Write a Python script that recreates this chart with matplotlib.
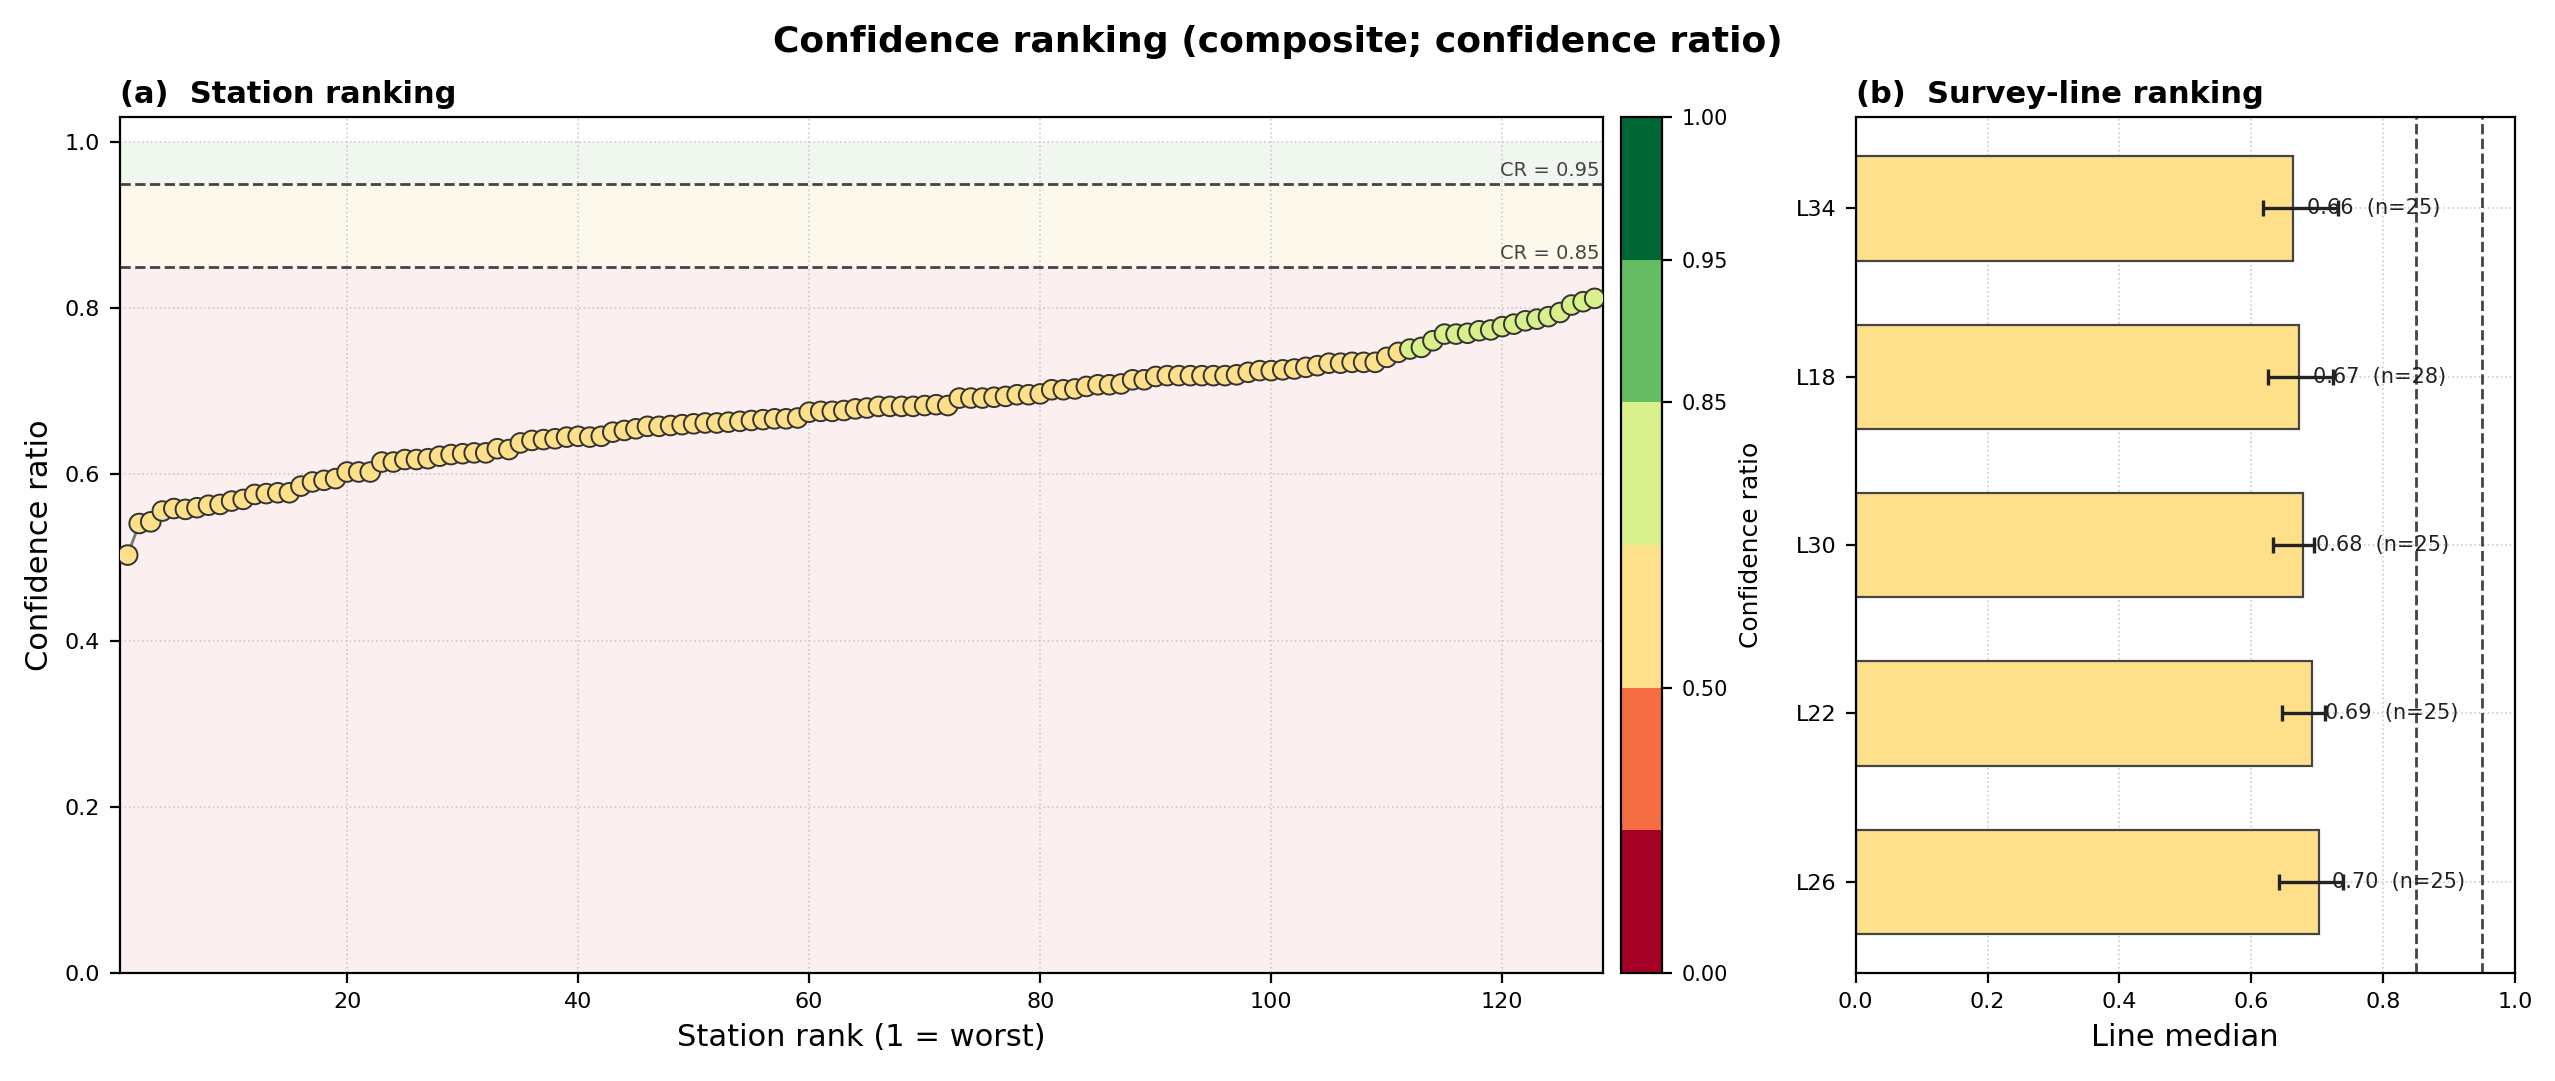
import matplotlib
matplotlib.use("Agg")
import matplotlib.pyplot as plt
import numpy as np
from matplotlib.colors import ListedColormap, BoundaryNorm

# station confidence ratios, sorted worst -> best (rank 1..128)
station_cr = [
    0.503, 0.541, 0.543, 0.556, 0.559, 0.558, 0.560, 0.563, 0.564, 0.568,
    0.570, 0.576, 0.577, 0.578, 0.578, 0.586, 0.591, 0.593, 0.595, 0.603,
    0.603, 0.603, 0.615, 0.615, 0.618, 0.618, 0.619, 0.622, 0.624, 0.625,
    0.626, 0.626, 0.631, 0.630, 0.638, 0.641, 0.642, 0.643, 0.645, 0.646,
    0.645, 0.646, 0.651, 0.653, 0.655, 0.658, 0.658, 0.659, 0.660, 0.661,
    0.662, 0.662, 0.663, 0.664, 0.665, 0.666, 0.667, 0.667, 0.668, 0.675,
    0.676, 0.676, 0.677, 0.679, 0.680, 0.682, 0.682, 0.682, 0.682, 0.683,
    0.684, 0.683, 0.692, 0.692, 0.692, 0.693, 0.694, 0.696, 0.696, 0.697,
    0.702, 0.702, 0.703, 0.706, 0.708, 0.708, 0.709, 0.714, 0.714, 0.718,
    0.719, 0.719, 0.719, 0.719, 0.719, 0.719, 0.720, 0.723, 0.725, 0.725,
    0.726, 0.727, 0.729, 0.731, 0.734, 0.734, 0.735, 0.735, 0.735, 0.741,
    0.747, 0.751, 0.753, 0.761, 0.769, 0.769, 0.770, 0.773, 0.774, 0.778,
    0.781, 0.785, 0.787, 0.790, 0.795, 0.804, 0.808, 0.812,
]

# survey lines, worst first
lines = ["L34", "L18", "L30", "L22", "L26"]
line_median = [0.664, 0.673, 0.678, 0.692, 0.703]
line_lo = [0.618, 0.626, 0.633, 0.646, 0.642]
line_hi = [0.732, 0.724, 0.695, 0.712, 0.739]
line_n = [25, 28, 25, 25, 25]

bounds = [0.0, 0.25, 0.5, 0.75, 0.85, 0.95, 1.0]
cb_ticks = [0.0, 0.5, 0.85, 0.95, 1.0]
thresholds = [0.85, 0.95]

cmap = ListedColormap(["#a50026", "#f46d43", "#fee08b", "#d9ef8b", "#66bd63", "#006837"])
norm = BoundaryNorm(bounds, cmap.N)

fig = plt.figure(figsize=(12.775, 5.405), dpi=200)
ax = fig.add_axes([0.0468, 0.1, 0.5805, 0.7915])
cax = fig.add_axes([0.6346, 0.1, 0.0159, 0.7915])
ax2 = fig.add_axes([0.7263, 0.1, 0.258, 0.7915])

# ---- (a) station ranking
rank = np.arange(1, len(station_cr) + 1)
ax.axhspan(0, 0.85, color="#fbeff0", zorder=0, lw=0)
ax.axhspan(0.85, 0.95, color="#fcf8ec", zorder=0, lw=0)
ax.axhspan(0.95, 1.0, color="#f0f7ee", zorder=0, lw=0)
ax.plot(rank, station_cr, color="#777777", lw=1.0, zorder=2)
sc = ax.scatter(rank, station_cr, c=station_cr, cmap=cmap, norm=norm, s=50,
                edgecolors="#333333", linewidths=0.7, zorder=3)
for t in thresholds:
    ax.axhline(t, color="#444444", ls="--", lw=1.0, zorder=1)
    ax.text(128.4, t + 0.004, f"CR = {t:.2f}", ha="right", va="bottom",
            fontsize=7, color="#444444")
ax.set_xlim(0.3, 128.7)
ax.set_ylim(0, 1.03)
ax.grid(True, ls=":", lw=0.6, color="#cccccc", zorder=1)
ax.set_axisbelow(True)
ax.tick_params(labelsize=8)
ax.set_xlabel("Station rank (1 = worst)", fontsize=11)
ax.set_ylabel("Confidence ratio", fontsize=11)
ax.set_title("(a)  Station ranking", loc="left", fontweight="bold", fontsize=11, pad=5)

cb = fig.colorbar(sc, cax=cax, ticks=cb_ticks)
cb.ax.minorticks_off()
cb.ax.set_yticklabels([f"{t:.2f}" for t in cb_ticks])
cb.ax.tick_params(labelsize=7.5)
cb.set_label("Confidence ratio", fontsize=9)

# ---- (b) survey-line ranking
y = np.arange(len(lines))
med = np.array(line_median)
xerr = np.array([med - np.array(line_lo), np.array(line_hi) - med])
ax2.barh(y, med, height=0.62, color=cmap(norm(med)), edgecolor="#444444",
         linewidth=0.8, zorder=2)
ax2.errorbar(med, y, xerr=xerr, fmt="none", ecolor="#222222", elinewidth=1.2,
             capsize=3, capthick=1.2, zorder=3)
for yi, m, n in zip(y, med, line_n):
    ax2.text(m + 0.02, yi, f"{m:.2f}  (n={n})", va="center", fontsize=7.5,
             color="#222222", zorder=4)
for t in thresholds:
    ax2.axvline(t, color="#444444", ls="--", lw=1.0, zorder=1)
ax2.set_yticks(y)
ax2.set_yticklabels(lines)
ax2.invert_yaxis()
ax2.set_xlim(0, 1.0)
ax2.grid(True, ls=":", lw=0.6, color="#cccccc", zorder=0)
ax2.set_axisbelow(True)
ax2.tick_params(labelsize=8)
ax2.set_xlabel("Line median", fontsize=11)
ax2.set_title("(b)  Survey-line ranking", loc="left", fontweight="bold", fontsize=11, pad=5)

fig.suptitle("Confidence ranking (composite; confidence ratio)", fontweight="bold",
             fontsize=13, y=0.977)

fig.savefig("out.png", dpi=200)
